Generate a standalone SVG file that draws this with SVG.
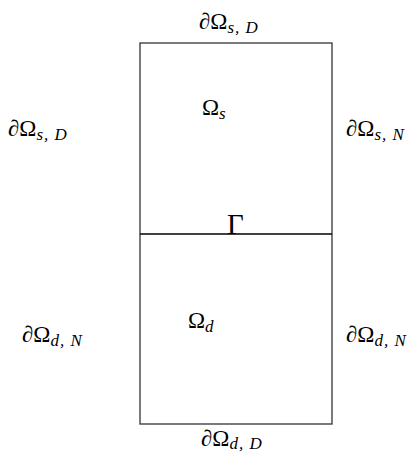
<svg xmlns="http://www.w3.org/2000/svg" width="416" height="455" viewBox="0 0 416 455">
<style>
text{font-family:"Liberation Serif","DejaVu Serif",serif;font-size:23px;fill:#000}
.sub{font-size:17px;font-style:italic;letter-spacing:1px}
.ln{stroke:#333;stroke-width:1.3;fill:none}
</style>
<rect width="416" height="455" fill="#fff"/>
<g id="connectors">
<rect class="ln" x="140" y="43" width="192" height="381"/>
<line x1="140" y1="234" x2="332" y2="234" stroke="#000" stroke-width="1.6"/>
</g>
<g id="top"><text x="199" y="29">∂Ω<tspan class="sub" dy="4">s, D</tspan></text></g>
<g id="left-s"><text x="8" y="136">∂Ω<tspan class="sub" dy="4">s, D</tspan></text></g>
<g id="right-s"><text x="346" y="136">∂Ω<tspan class="sub" dy="4">s, N</tspan></text></g>
<g id="omega-s"><text x="202" y="115">Ω<tspan class="sub" dy="4">s</tspan></text></g>
<g id="gamma"><text x="227" y="234" style="font-size:29px">Γ</text></g>
<g id="omega-d"><text x="188" y="328">Ω<tspan class="sub" dy="4">d</tspan></text></g>
<g id="left-d"><text x="22" y="342">∂Ω<tspan class="sub" dy="4">d, N</tspan></text></g>
<g id="right-d"><text x="346" y="342">∂Ω<tspan class="sub" dy="4">d, N</tspan></text></g>
<g id="bottom"><text x="201" y="446">∂Ω<tspan class="sub" dy="3">d, D</tspan></text></g>
</svg>
